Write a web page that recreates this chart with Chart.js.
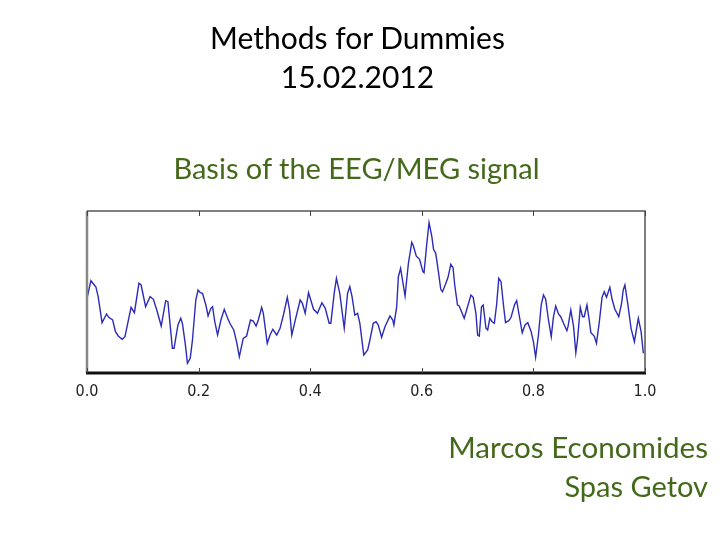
<!DOCTYPE html>
<html>
<head>
<meta charset="utf-8">
<script src="https://cdn.jsdelivr.net/npm/chart.js@4/dist/chart.umd.min.js"></script>
<style>
  html, body { margin: 0; padding: 0; background: #ffffff; }
  #wrap { position: relative; width: 720px; height: 540px; overflow: hidden; }
  canvas { position: absolute; left: 0; top: 0; }
  .t { position: absolute; white-space: nowrap; font-family: Lato, "Open Sans", sans-serif; line-height: 1; }
</style>
</head>
<body>
<div id="wrap">
  <canvas id="c" width="720" height="540"></canvas>
  <div class="t" id="t1" style="left:0;width:715px;text-align:center;top:22px;font-size:30px;color:#000;">Methods for Dummies</div>
  <div class="t" id="t2" style="left:0;width:715px;text-align:center;top:61px;font-size:30px;color:#000;">15.02.2012</div>
  <div class="t" id="t3" style="left:0;width:713px;text-align:center;top:153px;font-size:29px;color:#44691a;">Basis of the EEG/MEG signal</div>
  <div class="t" id="t4" style="right:12px;text-align:right;top:432px;font-size:29.6px;color:#44691a;">Marcos Economides</div>
  <div class="t" id="t5" style="right:12px;text-align:right;top:471px;font-size:29px;color:#44691a;">Spas Getov</div>
</div>
<script>
// Time (fraction of window) and amplitude (arbitrary units)
const times = [0.000,0.007,0.016,0.020,0.027,0.035,0.039,0.046,0.051,0.056,0.063,0.068,0.079,0.085,0.093,0.097,0.105,0.113,0.119,0.125,0.133,0.141,0.145,0.153,0.156,0.163,0.168,0.171,0.176,0.180,0.185,0.189,0.195,0.199,0.203,0.207,0.213,0.217,0.222,0.225,0.229,0.234,0.240,0.246,0.251,0.256,0.263,0.268,0.273,0.280,0.286,0.293,0.298,0.303,0.307,0.313,0.316,0.323,0.328,0.333,0.340,0.346,0.352,0.359,0.363,0.367,0.374,0.382,0.386,0.391,0.397,0.401,0.406,0.413,0.421,0.427,0.434,0.437,0.443,0.447,0.453,0.461,0.467,0.471,0.475,0.480,0.485,0.489,0.496,0.503,0.507,0.513,0.518,0.522,0.528,0.534,0.543,0.548,0.550,0.555,0.558,0.562,0.570,0.576,0.582,0.585,0.590,0.596,0.602,0.604,0.609,0.613,0.618,0.621,0.625,0.630,0.634,0.637,0.642,0.647,0.652,0.656,0.659,0.664,0.667,0.672,0.676,0.682,0.688,0.692,0.697,0.700,0.703,0.707,0.710,0.715,0.718,0.722,0.726,0.730,0.734,0.738,0.742,0.746,0.750,0.756,0.760,0.766,0.770,0.776,0.780,0.785,0.790,0.796,0.800,0.804,0.809,0.814,0.818,0.822,0.827,0.832,0.836,0.840,0.845,0.849,0.854,0.860,0.862,0.867,0.872,0.876,0.879,0.884,0.888,0.891,0.896,0.900,0.903,0.909,0.913,0.918,0.923,0.927,0.931,0.937,0.941,0.946,0.953,0.958,0.961,0.964,0.969,0.975,0.981,0.988,0.993,0.997];
const amplitudes = [-0.63,1.13,0.50,-0.47,-3.07,-2.20,-2.53,-2.80,-3.97,-4.40,-4.73,-4.47,-1.53,-2.07,0.87,0.70,-1.47,-0.47,-0.73,-1.80,-3.40,-0.87,-0.97,-5.63,-5.63,-3.30,-2.63,-3.13,-5.13,-7.13,-6.63,-4.80,-0.80,0.20,-0.07,-0.13,-1.30,-2.40,-1.63,-1.47,-2.97,-4.30,-2.80,-1.73,-2.47,-3.13,-3.80,-4.97,-6.47,-4.63,-4.40,-2.80,-2.90,-3.40,-2.80,-1.53,-2.13,-5.13,-4.30,-3.73,-4.30,-3.63,-2.30,-0.53,-1.80,-4.30,-2.63,-0.80,-1.13,-2.13,-0.07,-0.80,-1.73,-2.13,-1.07,-1.63,-3.13,-3.13,-0.13,1.37,-0.13,-3.63,-0.13,0.53,-0.47,-2.30,-2.13,-3.13,-6.30,-5.80,-4.80,-3.13,-2.97,-3.30,-4.53,-3.47,-2.40,-2.80,-3.30,-1.47,1.53,2.37,-0.40,2.87,4.97,4.60,3.60,3.27,2.03,1.93,4.87,6.93,5.53,4.27,3.87,1.93,0.27,0.03,0.70,1.47,2.77,2.43,0.70,-1.30,-1.40,-2.07,-2.63,-1.47,-0.30,-0.53,-2.13,-4.30,-4.40,-1.47,-1.30,-3.63,-3.80,-2.63,-2.97,-3.13,-1.30,1.37,1.03,-1.13,-3.07,-2.87,-2.53,-1.30,-0.87,-2.80,-4.07,-3.30,-3.07,-3.97,-4.97,-6.53,-4.30,-1.30,-0.30,-0.73,-2.80,-4.47,-2.47,-1.40,-2.20,-2.47,-3.13,-3.87,-3.47,-1.80,-3.47,-6.07,-4.80,-1.53,-2.47,-2.47,-1.30,-2.80,-4.07,-4.40,-5.13,-3.07,-0.53,0.03,-0.53,0.47,-0.73,-1.73,-2.47,-1.13,0.20,0.70,-1.13,-3.63,-4.97,-2.63,-3.97,-6.13];
const xTickValues = [0.0, 0.2, 0.4, 0.6, 0.8, 1.0];
const xTickLabels = ["0.0", "0.2", "0.4", "0.6", "0.8", "1.0"];

const points = times.map((t, i) => ({ x: t, y: amplitudes[i] }));

const framePlugin = {
  id: 'frame',
  afterDatasetsDraw(chart) {
    const { ctx, chartArea: a, scales } = chart;
    ctx.save();
    ctx.strokeStyle = '#555555';
    ctx.lineWidth = 1.5;
    ctx.beginPath();
    ctx.moveTo(a.left, a.top); ctx.lineTo(a.right, a.top); ctx.lineTo(a.right, a.bottom);
    ctx.stroke();
    ctx.strokeStyle = '#888888';
    ctx.lineWidth = 2.5;
    ctx.beginPath(); ctx.moveTo(a.left, a.top); ctx.lineTo(a.left, a.bottom); ctx.stroke();
    ctx.strokeStyle = '#111111';
    ctx.lineWidth = 3;
    ctx.beginPath(); ctx.moveTo(a.left - 1, a.bottom); ctx.lineTo(a.right + 1, a.bottom); ctx.stroke();
    ctx.strokeStyle = '#444444';
    ctx.lineWidth = 1;
    scales.x.ticks.forEach(tk => {
      const px = Math.round(scales.x.getPixelForValue(tk.value)) + 0.5;
      ctx.beginPath(); ctx.moveTo(px, a.bottom); ctx.lineTo(px, a.bottom - 5); ctx.stroke();
      ctx.beginPath(); ctx.moveTo(px, a.top); ctx.lineTo(px, a.top + 5); ctx.stroke();
    });
    ctx.restore();
  }
};

new Chart(document.getElementById('c'), {
  type: 'line',
  data: {
    datasets: [{
      data: points,
      borderColor: '#2b2bb8',
      borderWidth: 1.4,
      pointRadius: 0,
      tension: 0,
      fill: false
    }]
  },
  options: {
    responsive: false,
    animation: false,
    events: [],
    layout: { padding: { left: 87, right: 75, top: 211, bottom: 137 } },
    plugins: { legend: { display: false }, tooltip: { enabled: false }, title: { display: false } },
    scales: {
      x: {
        type: 'linear',
        min: 0, max: 1,
        afterFit: s => { s.height = 30; },
        afterBuildTicks: s => { s.ticks = xTickValues.map(v => ({ value: v })); },
        grid: { display: false },
        border: { display: false },
        ticks: {
          padding: 1,
          color: '#222222',
          font: { family: "'DejaVu Sans Condensed', 'DejaVu Sans'", size: 16 },
          maxRotation: 0,
          callback: (v) => { const i = xTickValues.indexOf(v); return i >= 0 ? xTickLabels[i] : ''; }
        }
      },
      y: { display: false, min: -8.1, max: 8.1 }
    }
  },
  plugins: [framePlugin]
});
</script>
</body>
</html>
